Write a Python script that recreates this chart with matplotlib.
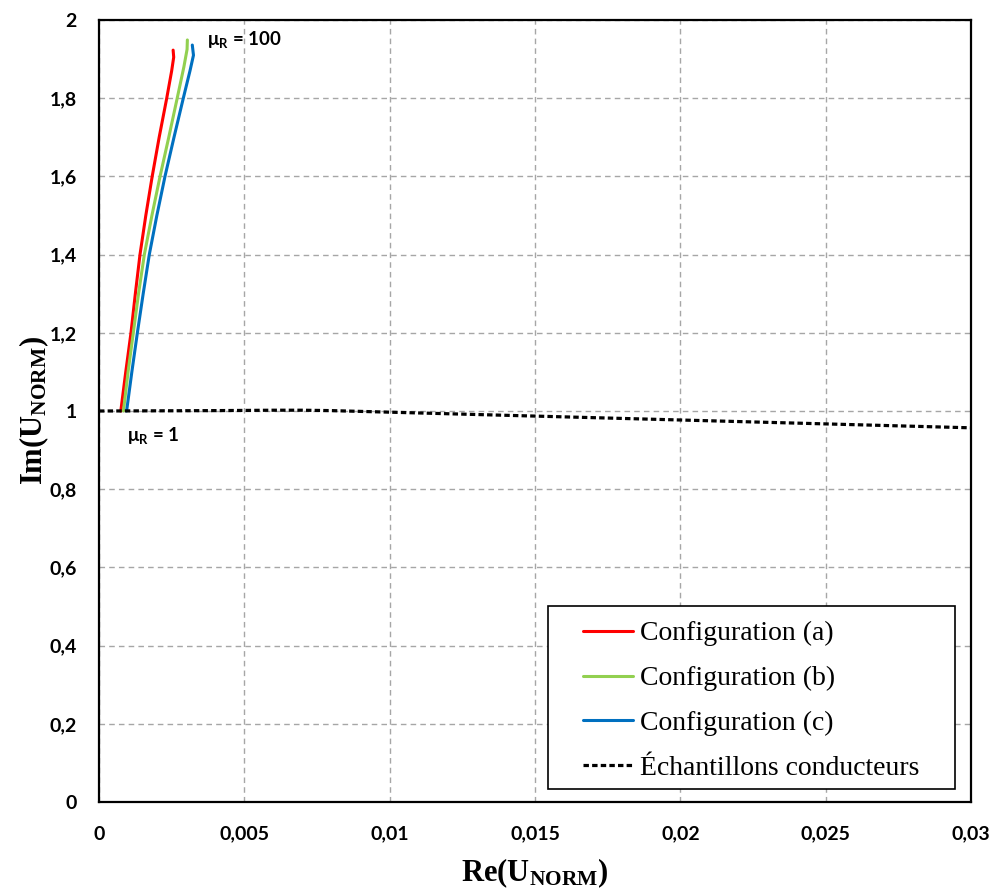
import matplotlib
matplotlib.use("Agg")
import matplotlib.pyplot as plt
from matplotlib.patches import Rectangle

# Données
re_a = [0.00075, 0.00092, 0.00110, 0.00125, 0.00141, 0.00161, 0.00183, 0.00207,
        0.00233, 0.00250, 0.00257, 0.00255]
im_a = [1.0, 1.1, 1.2, 1.3, 1.4, 1.5, 1.6, 1.7, 1.8, 1.87, 1.905, 1.923]

re_b = [0.00084, 0.00100, 0.00118, 0.00136, 0.00156, 0.00182, 0.00210, 0.00240,
        0.00269, 0.00292, 0.00303, 0.00304]
im_b = [1.0, 1.1, 1.2, 1.3, 1.4, 1.5, 1.6, 1.7, 1.8, 1.88, 1.925, 1.949]

re_c = [0.00095, 0.00113, 0.00132, 0.00152, 0.00173, 0.00199, 0.00227, 0.00258,
        0.00290, 0.00313, 0.00325, 0.00321]
im_c = [1.0, 1.1, 1.2, 1.3, 1.4, 1.5, 1.6, 1.7, 1.8, 1.87, 1.91, 1.936]

re_cond = [0, 0.002, 0.004, 0.006, 0.007, 0.008, 0.01, 0.012, 0.015,
           0.018, 0.02, 0.022, 0.025, 0.028, 0.03]
im_cond = [1.0, 1.0005, 1.001, 1.002, 1.002, 1.001, 0.997, 0.993, 0.987,
           0.981, 0.977, 0.973, 0.967, 0.961, 0.957]

labels = ["Configuration (a)", "Configuration (b)", "Configuration (c)",
          "Échantillons conducteurs"]
xticks = [0, 0.005, 0.01, 0.015, 0.02, 0.025, 0.03]
xtick_labels = ["0", "0,005", "0,01", "0,015", "0,02", "0,025", "0,03"]
yticks = [0, 0.2, 0.4, 0.6, 0.8, 1, 1.2, 1.4, 1.6, 1.8, 2]
ytick_labels = ["0", "0,2", "0,4", "0,6", "0,8", "1", "1,2", "1,4", "1,6", "1,8", "2"]

# sous-indices des titres d'axes en Times gras
plt.rcParams['mathtext.fontset'] = 'custom'
plt.rcParams['mathtext.rm'] = 'Liberation Serif:bold'
plt.rcParams['mathtext.bf'] = 'Liberation Serif:bold'
plt.rcParams['mathtext.it'] = 'Liberation Serif:bold'

fig = plt.figure(figsize=(9.96, 8.9), dpi=100)
ax = fig.add_axes([0.0994, 0.0989, 0.8755, 0.8786])

ax.plot(re_a, im_a, color="#FF0000", lw=2.2, label=labels[0], solid_capstyle="round")
ax.plot(re_b, im_b, color="#92D050", lw=2.2, label=labels[1], solid_capstyle="round")
ax.plot(re_c, im_c, color="#0070C0", lw=2.2, label=labels[2], solid_capstyle="round")
ax.plot(re_cond, im_cond, color="black", lw=2.3, dashes=(1.7, 1.0), label=labels[3])

ax.set_xlim(0, 0.03)
ax.set_ylim(0, 2)
ax.set_xticks(xticks)
ax.set_xticklabels(xtick_labels)
ax.set_yticks(yticks)
ax.set_yticklabels(ytick_labels)
for lab in ax.get_xticklabels() + ax.get_yticklabels():
    lab.set_fontfamily("Lato")
    lab.set_fontweight("bold")
    lab.set_fontsize(14)
ax.tick_params(axis="x", length=0, pad=17)
ax.tick_params(axis="y", length=0, pad=16)

ax.grid(True, color="#A6A6A6", lw=1.0, dashes=(4, 3))
ax.set_axisbelow(True)
for s in ax.spines.values():
    s.set_color("black")
    s.set_linewidth(1.6)

ax.set_xlabel(r"Re(U$_\mathbf{NORM}$)", fontfamily="Liberation Serif", fontweight="bold",
              fontsize=22, labelpad=10)
ax.set_ylabel(r"Im(U$_\mathbf{NORM}$)", fontfamily="Liberation Serif", fontweight="bold",
              fontsize=22, labelpad=-1)

ax.text(0.00372, 1.949, r"μ$_\mathregular{R}$ = 100", fontfamily="Lato", math_fontfamily="dejavusans",
        fontweight="bold", fontsize=13.5, va="center", ha="left")
ax.text(0.00096, 0.934, r"μ$_\mathregular{R}$ = 1", fontfamily="Lato", math_fontfamily="dejavusans",
        fontweight="bold", fontsize=13.5, va="center", ha="left")

# légende sans cadre + cadre dessiné à part (marges plus larges à gauche/droite)
leg = ax.legend(loc="upper left", bbox_to_anchor=(0.555, 0.2315), borderaxespad=0,
                prop={"family": "Liberation Serif", "size": 20}, frameon=False,
                handlelength=1.8, handletextpad=0.25, labelspacing=0.7, borderpad=0)
ax.add_patch(Rectangle((0.5149, 0.01662), 0.4667, 0.234, transform=ax.transAxes,
                       facecolor="white", edgecolor="black", lw=1.2, zorder=4))
leg.set_zorder(5)

fig.savefig("out.png", dpi=100)
